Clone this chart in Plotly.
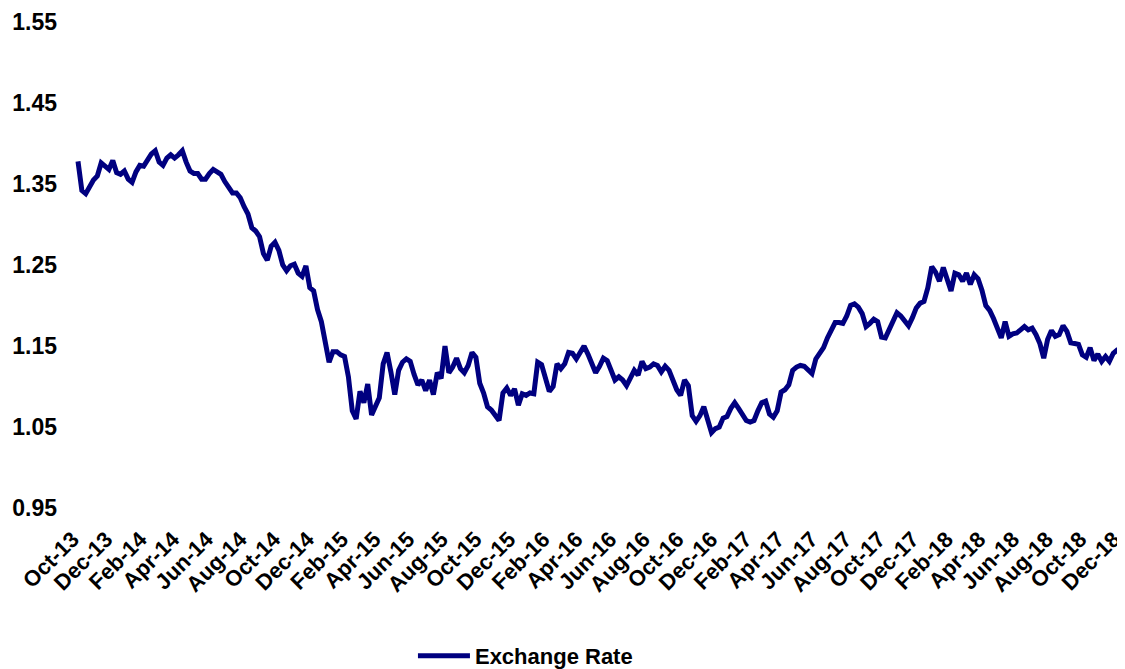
import pandas as pd
import plotly.graph_objects as go

# Weekly EUR/USD-style exchange rate readings
rate_2013 = [1.378, 1.342, 1.338, 1.348, 1.355, 1.360, 1.376, 1.372, 1.368, 1.379]
rate_2014 = [1.364, 1.362, 1.366, 1.356, 1.352, 1.365, 1.373, 1.372, 1.380, 1.387,
             1.391, 1.377, 1.373, 1.382, 1.386, 1.382, 1.386, 1.391, 1.377, 1.366,
             1.363, 1.363, 1.356, 1.356, 1.363, 1.368, 1.365, 1.362, 1.353, 1.345,
             1.339, 1.339, 1.333, 1.322, 1.313, 1.296, 1.292, 1.285, 1.264, 1.256,
             1.273, 1.278, 1.268, 1.250, 1.243, 1.249, 1.251, 1.240, 1.236, 1.249,
             1.222, 1.218]
rate_2015 = [1.195, 1.180, 1.155, 1.130, 1.143, 1.143, 1.139, 1.137, 1.112, 1.070,
             1.060, 1.094, 1.080, 1.103, 1.065, 1.076, 1.086, 1.128, 1.142, 1.118,
             1.090, 1.120, 1.130, 1.134, 1.131, 1.115, 1.102, 1.108, 1.095, 1.108,
             1.090, 1.117, 1.110, 1.150, 1.117, 1.124, 1.135, 1.122, 1.117, 1.126,
             1.142, 1.136, 1.104, 1.092, 1.075, 1.071, 1.065, 1.058, 1.092, 1.098,
             1.089, 1.097]
rate_2016 = [1.077, 1.091, 1.089, 1.092, 1.091, 1.130, 1.127, 1.110, 1.094, 1.100,
             1.128, 1.122, 1.128, 1.142, 1.141, 1.134, 1.143, 1.150, 1.140, 1.130,
             1.117, 1.125, 1.135, 1.132, 1.118, 1.108, 1.112, 1.108, 1.101, 1.112,
             1.120, 1.114, 1.131, 1.122, 1.124, 1.128, 1.126, 1.118, 1.125, 1.120,
             1.108, 1.096, 1.089, 1.108, 1.101, 1.064, 1.057, 1.064, 1.075, 1.056,
             1.043, 1.048]
rate_2017 = [1.050, 1.061, 1.063, 1.073, 1.080, 1.073, 1.065, 1.058, 1.056, 1.058,
             1.070, 1.080, 1.082, 1.066, 1.062, 1.070, 1.093, 1.096, 1.102, 1.120,
             1.124, 1.126, 1.125, 1.121, 1.116, 1.134, 1.140, 1.148, 1.160, 1.170,
             1.179, 1.179, 1.178, 1.187, 1.200, 1.202, 1.198, 1.190, 1.174, 1.178,
             1.183, 1.180, 1.161, 1.160, 1.170, 1.182, 1.191, 1.187, 1.180, 1.175,
             1.185, 1.197]
rate_2018 = [1.203, 1.205, 1.222, 1.248, 1.241, 1.230, 1.247, 1.232, 1.218, 1.240,
             1.238, 1.230, 1.240, 1.226, 1.238, 1.233, 1.219, 1.200, 1.194, 1.184,
             1.172, 1.160, 1.180, 1.162, 1.165, 1.166, 1.170, 1.174, 1.170, 1.172,
             1.164, 1.153, 1.135, 1.158, 1.169, 1.162, 1.164, 1.175, 1.168, 1.154,
             1.153, 1.152, 1.139, 1.136, 1.148, 1.132, 1.140, 1.131, 1.137, 1.131,
             1.141, 1.145, 1.145]

rates = rate_2013 + rate_2014 + rate_2015 + rate_2016 + rate_2017 + rate_2018
dates = pd.date_range("2013-10-29", periods=len(rates), freq="7D")

tick_dates = ["2013-10-01", "2013-12-01", "2014-02-01", "2014-04-01", "2014-06-01",
              "2014-08-01", "2014-10-01", "2014-12-01", "2015-02-01", "2015-04-01",
              "2015-06-01", "2015-08-01", "2015-10-01", "2015-12-01", "2016-02-01",
              "2016-04-01", "2016-06-01", "2016-08-01", "2016-10-01", "2016-12-01",
              "2017-02-01", "2017-04-01", "2017-06-01", "2017-08-01", "2017-10-01",
              "2017-12-01", "2018-02-01", "2018-04-01", "2018-06-01", "2018-08-01",
              "2018-10-01", "2018-12-01"]
tick_labels = ["Oct-13", "Dec-13", "Feb-14", "Apr-14", "Jun-14", "Aug-14", "Oct-14",
               "Dec-14", "Feb-15", "Apr-15", "Jun-15", "Aug-15", "Oct-15", "Dec-15",
               "Feb-16", "Apr-16", "Jun-16", "Aug-16", "Oct-16", "Dec-16", "Feb-17",
               "Apr-17", "Jun-17", "Aug-17", "Oct-17", "Dec-17", "Feb-18", "Apr-18",
               "Jun-18", "Aug-18", "Oct-18", "Dec-18"]
y_ticks = [0.95, 1.05, 1.15, 1.25, 1.35, 1.45, 1.55]

FONT = "Liberation Sans, Arial, sans-serif"

fig = go.Figure()
fig.add_trace(go.Scatter(
    x=dates, y=rates, mode="lines", name="Exchange Rate",
    line=dict(color="#000080", width=5),
))

# the page body has an 8px margin, so the figure is sized to the visible area
fig.update_layout(
    width=1117, height=661,
    margin=dict(l=54, r=4, t=14, b=161, autoexpand=False),
    paper_bgcolor="white", plot_bgcolor="white",
    showlegend=True,
    legend=dict(
        orientation="h", x=0.3314, xanchor="left",
        yref="container", y=0.0197, yanchor="middle",
        font=dict(family=FONT, size=22, color="black", weight="bold"),
        bgcolor="rgba(0,0,0,0)", itemwidth=52,
    ),
    xaxis=dict(
        type="date", range=["2013-09-30", "2019-01-01"], automargin=False,
        tickmode="array", tickvals=tick_dates, ticktext=tick_labels,
        tickangle=-45, ticks="", showgrid=False, zeroline=False, showline=False,
        tickfont=dict(family=FONT, size=22, color="black", weight="bold"),
        ticklabelshift=10, ticklabelstandoff=13, ticklabeloverflow="allow",
    ),
    yaxis=dict(
        range=[0.95, 1.55], tickmode="array", tickvals=y_ticks, automargin=False,
        ticktext=[f"{v:.2f}" for v in y_ticks],
        ticks="", showgrid=False, zeroline=False, showline=False,
        tickfont=dict(family=FONT, size=23, color="black", weight="bold"),
        ticklabelstandoff=4,
    ),
)

fig.write_html("out.html")
